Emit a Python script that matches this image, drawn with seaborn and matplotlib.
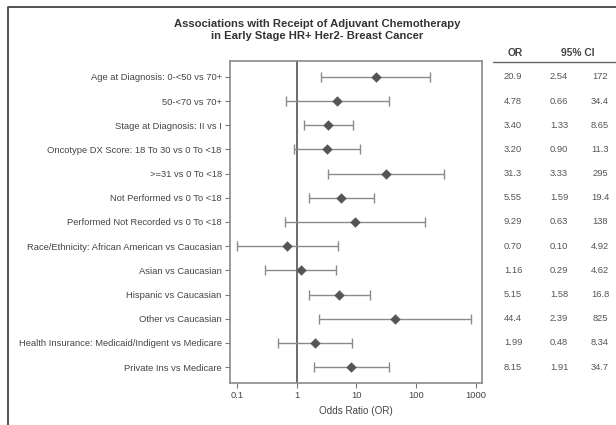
import matplotlib
matplotlib.use("Agg")
import matplotlib.pyplot as plt
import matplotlib.transforms as mtransforms
from matplotlib.lines import Line2D
from matplotlib import font_manager
import seaborn as sns
import pandas as pd
import numpy as np

labels = [
    "Age at Diagnosis: 0-<50 vs 70+",
    "50-<70 vs 70+",
    "Stage at Diagnosis: II vs I",
    "Oncotype DX Score: 18 To 30 vs 0 To <18",
    ">=31 vs 0 To <18",
    "Not Performed vs 0 To <18",
    "Performed Not Recorded vs 0 To <18",
    "Race/Ethnicity: African American vs Caucasian",
    "Asian vs Caucasian",
    "Hispanic vs Caucasian",
    "Other vs Caucasian",
    "Health Insurance: Medicaid/Indigent vs Medicare",
    "Private Ins vs Medicare",
]
odds_ratio = [20.9, 4.78, 3.40, 3.20, 31.3, 5.55, 9.29, 0.70, 1.16, 5.15, 44.4, 1.99, 8.15]
ci_low = [2.54, 0.66, 1.33, 0.90, 3.33, 1.59, 0.63, 0.10, 0.29, 1.58, 2.39, 0.48, 1.91]
ci_high = [172, 34.4, 8.65, 11.3, 295, 19.4, 138, 4.92, 4.62, 16.8, 825, 8.34, 34.7]
x_ticks = [0.1, 1, 10, 100, 1000]
x_tick_labels = ["0.1", "1", "10", "100", "1000"]
title = "Associations with Receipt of Adjuvant Chemotherapy\nin Early Stage HR+ Her2- Breast Cancer"
x_label = "Odds Ratio (OR)"

df = pd.DataFrame({"label": labels, "OR": odds_ratio, "lo": ci_low, "hi": ci_high})

names = {f.name for f in font_manager.fontManager.ttflist}
narrow = "Liberation Sans Narrow" in names
fam = "Liberation Sans Narrow" if narrow else "Liberation Sans"

sns.set_style("white")
plt.rcParams["font.family"] = [fam, "DejaVu Sans"]

fig = plt.figure(figsize=(6.16, 4.25), dpi=100)
ax = fig.add_axes([230/616, 1-383/425, (482-230)/616, (383-61)/425])

ypos = np.arange(len(labels))
err = np.array([df["OR"] - df["lo"], df["hi"] - df["OR"]])
ax.errorbar(df["OR"], ypos, xerr=err, fmt="none", ecolor="#8a8a8a",
            elinewidth=1.0, capsize=3.5, capthick=1.0, zorder=2)
sns.scatterplot(data=df, x="OR", y=ypos, marker="D", s=24, color="#555555",
                edgecolor="#555555", ax=ax, zorder=3, legend=False)
ax.axvline(1, color="#6a6a6a", lw=1.4, zorder=1)

ax.set_xscale("log")
ax.set_xlim(10**(-1 - 7/60), 10**(3 + 6/60))
ax.set_ylim(len(labels) - 1 + 0.66, -0.66)
ax.set_xticks(x_ticks)
ax.set_xticklabels(x_tick_labels)
ax.xaxis.set_minor_locator(matplotlib.ticker.NullLocator())
ax.set_yticks(ypos)
ax.set_yticklabels(labels)
fs = 7.7 if narrow else 6.75
ax.tick_params(axis="both", direction="out", length=3.5, width=0.8,
               color="#777777", labelcolor="#444444", labelsize=fs, pad=2.5,
               bottom=True, left=True)
ax.set_xlabel(x_label, fontsize=fs + 0.4, color="#444444", labelpad=4)
ax.set_ylabel("")
for s in ax.spines.values():
    s.set_color("#8a8a8a")
    s.set_linewidth(1.2)

fig.text(317/616, 1-30/425, title, ha="center", va="center", fontsize=8.1,
         fontweight="bold", color="#333333", linespacing=1.2,
         family=["Liberation Sans", "DejaVu Sans"])

# table at right
trans = mtransforms.blended_transform_factory(fig.transFigure, ax.transData)
def fmt(v):
    if v < 10:
        return f"{v:.2f}"
    if v < 100:
        return f"{v:.1f}"
    return f"{v:.0f}"
for i in range(len(labels)):
    fig.text(513/616, ypos[i], fmt(odds_ratio[i]), transform=trans, ha="center",
             va="center", fontsize=fs, color="#555555")
    fig.text(559/616, ypos[i], fmt(ci_low[i]), transform=trans, ha="center",
             va="center", fontsize=fs, color="#555555")
    fig.text(600/616, ypos[i], fmt(ci_high[i]), transform=trans, ha="center",
             va="center", fontsize=fs, color="#555555")
fig.text(515/616, 1-53/425, "OR", ha="center", va="center", fontsize=7.4,
         fontweight="bold", color="#444444", family=["Liberation Sans", "DejaVu Sans"])
fig.text(578/616, 1-53/425, "95% CI", ha="center", va="center", fontsize=7.4,
         fontweight="bold", color="#444444", family=["Liberation Sans", "DejaVu Sans"])
fig.add_artist(Line2D([493/616, 1.0], [1-62/425, 1-62/425], transform=fig.transFigure,
                      color="#666666", lw=1.0))

# outer frame (top and left edges)
fig.add_artist(Line2D([8/616, 8/616, 1.0], [0.0, 1-7/425, 1-7/425],
                      transform=fig.transFigure, color="#444444", lw=1.3))

fig.savefig("out.png", dpi=100, facecolor="white")
